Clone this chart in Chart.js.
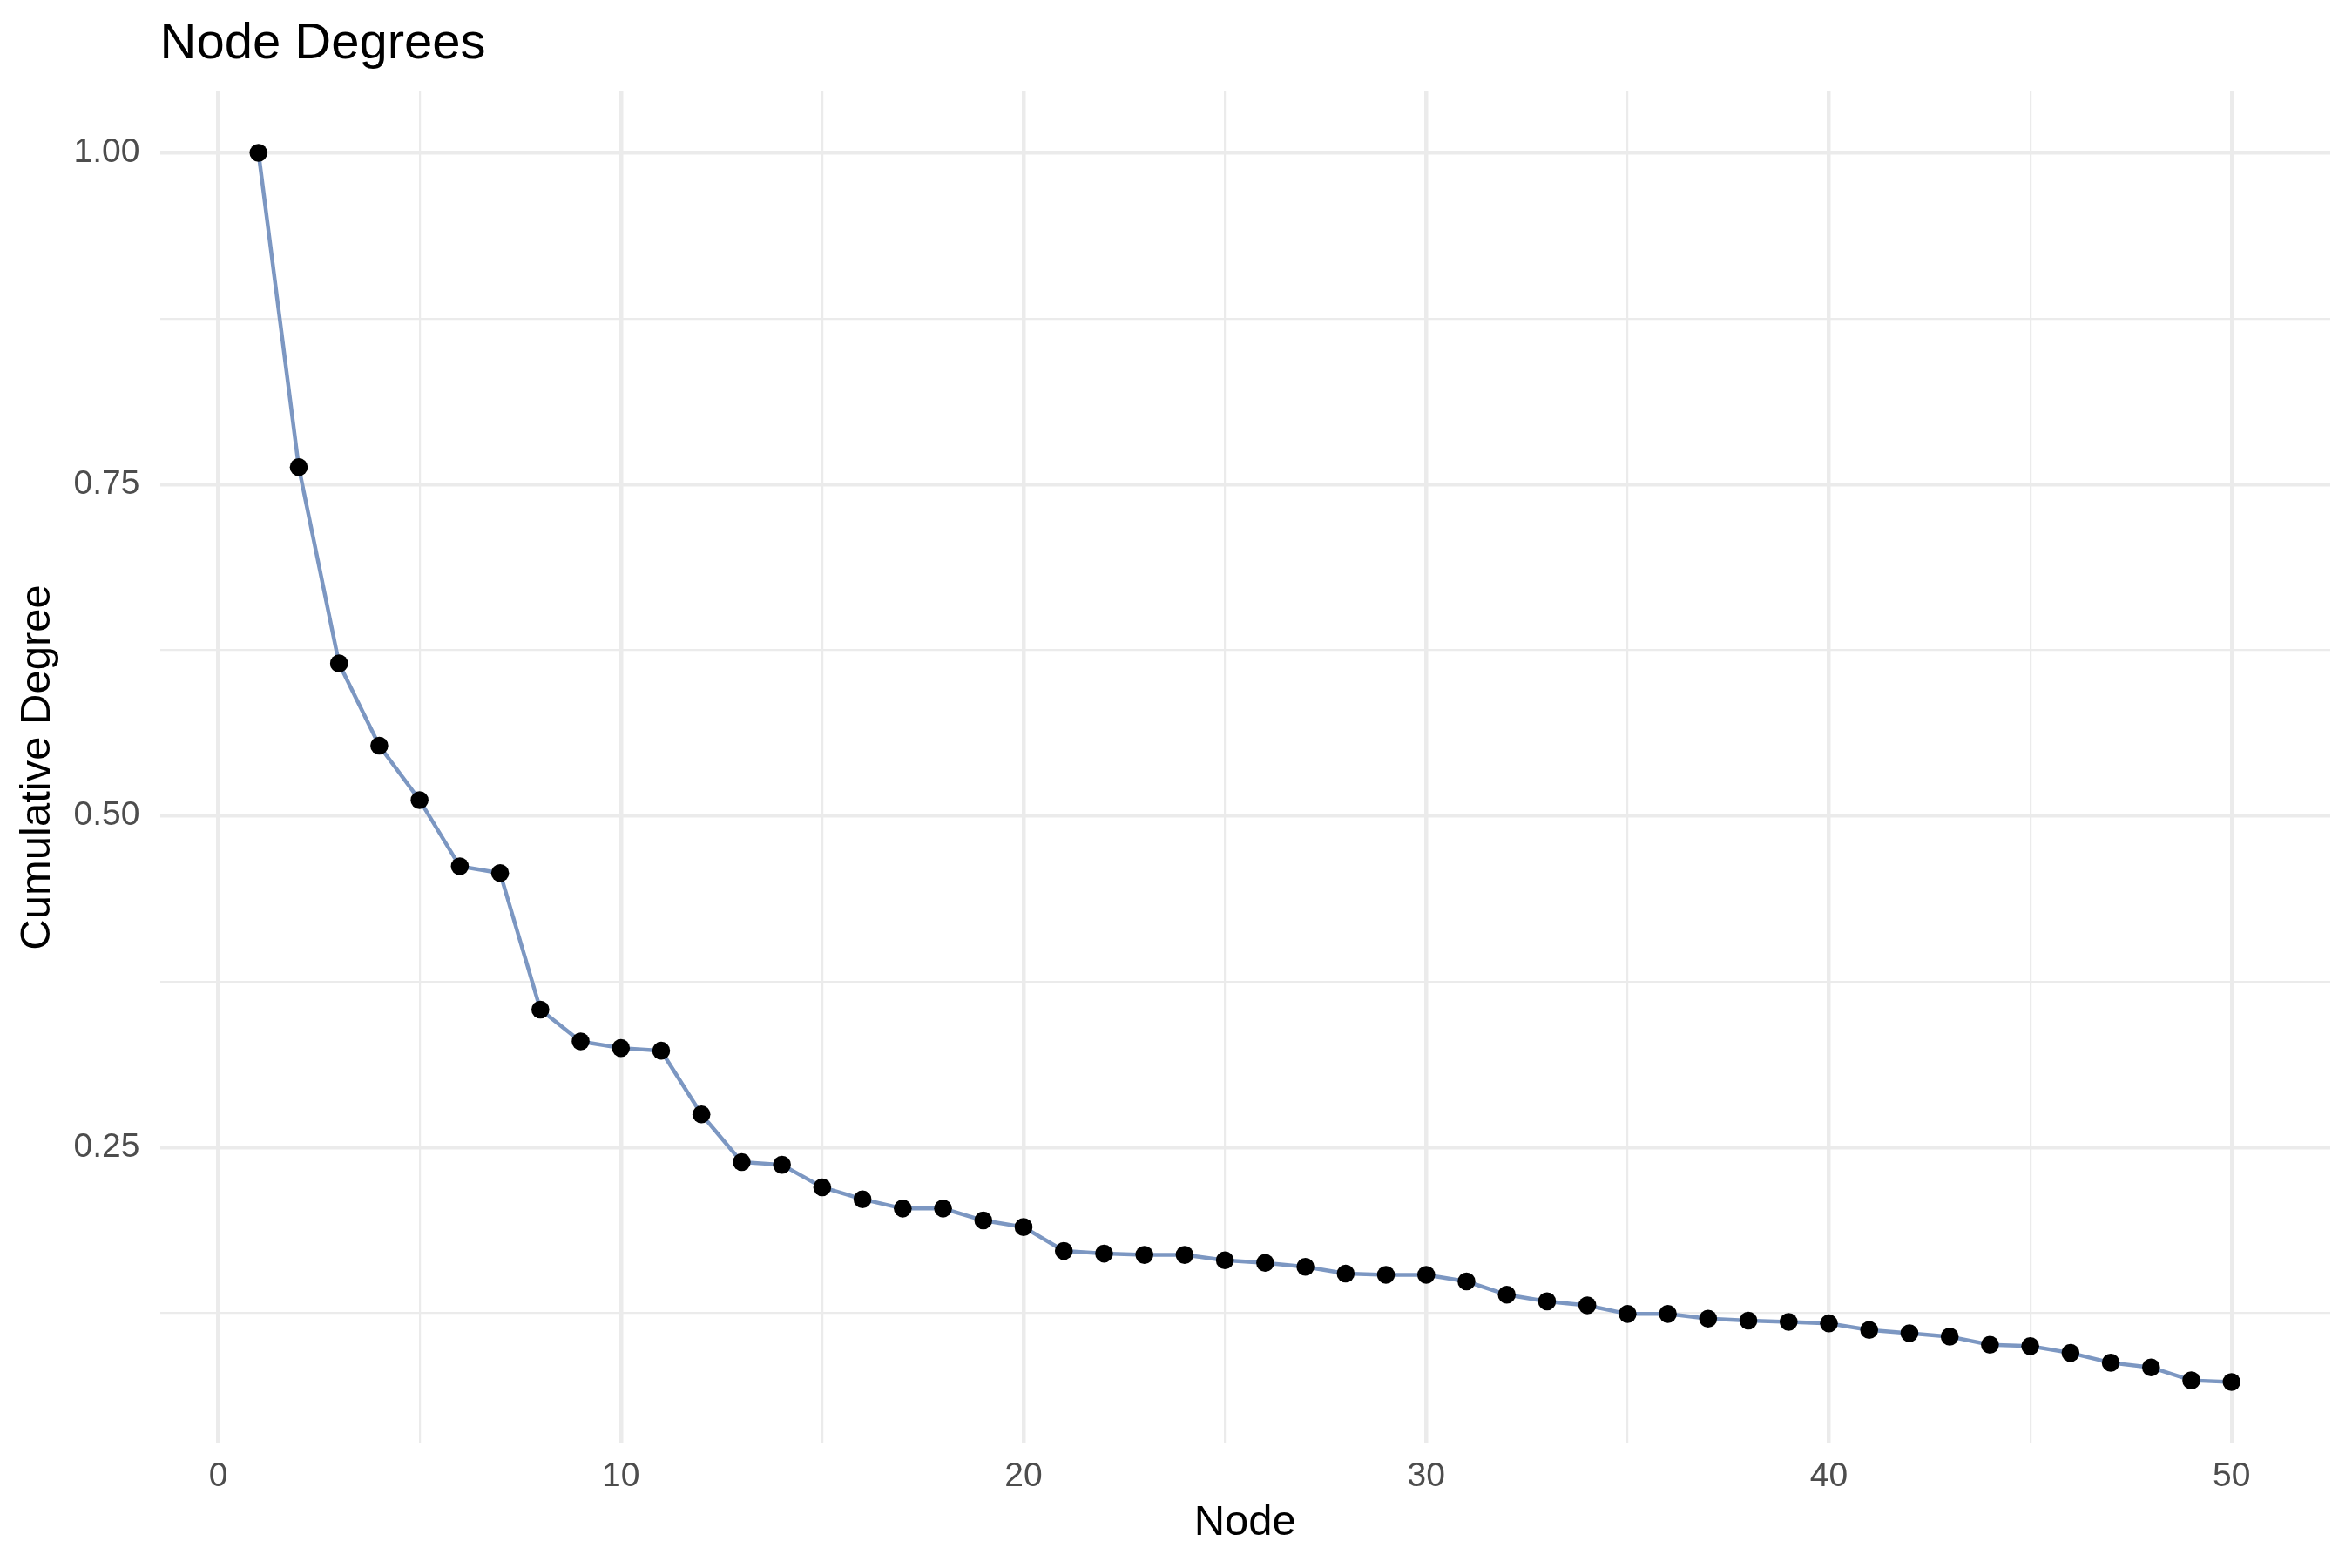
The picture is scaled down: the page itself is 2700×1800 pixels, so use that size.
<!DOCTYPE html>
<html>
<head>
<meta charset="utf-8">
<script src="https://cdn.jsdelivr.net/npm/chart.js@4/dist/chart.umd.min.js"></script>
<style>
  html, body { margin: 0; padding: 0; background: #ffffff; }
  #wrap { width: 2700px; height: 1800px; position: relative; }
</style>
</head>
<body>
<div id="wrap"><canvas id="c" width="2700" height="1800"></canvas></div>
<script>
// ---- Data ----
const nodes = [1,2,3,4,5,6,7,8,9,10,11,12,13,14,15,16,17,18,19,20,21,22,23,24,25,26,27,28,29,30,31,32,33,34,35,36,37,38,39,40,41,42,43,44,45,46,47,48,49,50];
const cumulativeDegree = [
  1.000, 0.763, 0.615, 0.553, 0.512, 0.462, 0.457, 0.354, 0.330, 0.325,
  0.323, 0.275, 0.239, 0.237, 0.220, 0.211, 0.204, 0.204, 0.195, 0.190,
  0.172, 0.170, 0.169, 0.169, 0.165, 0.163, 0.160, 0.155, 0.154, 0.154,
  0.149, 0.139, 0.134, 0.131, 0.1245, 0.1245, 0.121, 0.1195, 0.1185, 0.1174,
  0.1124, 0.110, 0.1074, 0.1013, 0.1002, 0.0951, 0.0877, 0.0842, 0.0744, 0.0732
];
const xMajorTicks = [0, 10, 20, 30, 40, 50];
const xMinorTicks = [5, 15, 25, 35, 45];
const xTickLabels = ['0', '10', '20', '30', '40', '50'];
const yMajorTicks = [0.25, 0.50, 0.75, 1.00];
const yMinorTicks = [0.125, 0.375, 0.625, 0.875];
const yTickLabels = ['0.25', '0.50', '0.75', '1.00'];
const titleText = 'Node Degrees';
const xTitle = 'Node';
const yTitle = 'Cumulative Degree';

// ---- axis limits (5% expansion like ggplot) ----
function expand(arr) {
  const lo = Math.min(...arr), hi = Math.max(...arr), r = hi - lo;
  return [lo - 0.05 * r, hi + 0.05 * r];
}
const [xMin, xMax] = expand(nodes);
const [yMin, yMax] = expand(cumulativeDegree);

const points = nodes.map((n, i) => ({ x: n, y: cumulativeDegree[i] }));
const FONT = '"Liberation Sans", Arial, Helvetica, sans-serif';
const GRID = '#EBEBEB';

function tickSetter(major, minor) {
  return function (axis) {
    axis.ticks = [...major, ...minor].sort((a, b) => a - b).map(v => ({ value: v }));
  };
}
function isIn(arr, v) { return arr.some(m => Math.abs(m - v) < 1e-9); }

new Chart(document.getElementById('c'), {
  type: 'line',
  data: {
    datasets: [{
      data: points,
      borderColor: '#7C97C2',
      borderWidth: 4.5,
      pointRadius: 10.3,
      pointHoverRadius: 10.3,
      pointBackgroundColor: '#000000',
      pointBorderWidth: 0,
      tension: 0,
      fill: false
    }]
  },
  options: {
    responsive: false,
    animation: false,
    devicePixelRatio: 1,
    layout: { padding: { left: 0, right: 25, top: 0, bottom: 0 } },
    plugins: {
      legend: { display: false },
      tooltip: { enabled: false },
      title: {
        display: true,
        text: titleText,
        align: 'start',
        fullSize: false,
        color: '#000000',
        font: { family: FONT, size: 58, weight: 'normal', lineHeight: 1.2 },
        padding: { top: 16, bottom: 19.4 }
      }
    },
    scales: {
      x: {
        type: 'linear',
        min: xMin,
        max: xMax,
        afterBuildTicks: tickSetter(xMajorTicks, xMinorTicks),
        afterFit: (s) => { s.height = 143; },
        border: { display: false },
        grid: {
          drawTicks: false,
          color: GRID,
          lineWidth: (ctx) => (ctx.tick && isIn(xMajorTicks, ctx.tick.value)) ? 4.5 : 2.2
        },
        ticks: {
          autoSkip: false,
          maxRotation: 0,
          padding: 15,
          color: '#4D4D4D',
          font: { family: FONT, size: 39 },
          callback: (v) => {
            const i = xMajorTicks.findIndex(m => Math.abs(m - v) < 1e-9);
            return i >= 0 ? xTickLabels[i] : '';
          }
        },
        title: {
          display: true,
          text: xTitle,
          color: '#000000',
          font: { family: FONT, size: 49, lineHeight: 1.2 },
          padding: { top: 0, bottom: 22.6 }
        }
      },
      y: {
        type: 'linear',
        min: yMin,
        max: yMax,
        afterBuildTicks: tickSetter(yMajorTicks, yMinorTicks),
        afterFit: (s) => { s.width = 183.5; },
        border: { display: false },
        grid: {
          drawTicks: false,
          color: GRID,
          lineWidth: (ctx) => (ctx.tick && isIn(yMajorTicks, ctx.tick.value)) ? 4.5 : 2.2
        },
        ticks: {
          autoSkip: false,
          padding: 23,
          color: '#4D4D4D',
          font: { family: FONT, size: 39 },
          callback: (v) => {
            const i = yMajorTicks.findIndex(m => Math.abs(m - v) < 1e-9);
            return i >= 0 ? yTickLabels[i] : '';
          }
        },
        title: {
          display: true,
          text: yTitle,
          color: '#000000',
          font: { family: FONT, size: 49, lineHeight: 1.2 },
          padding: { top: 13.6, bottom: 0 }
        }
      }
    }
  }
});
</script>
</body>
</html>
